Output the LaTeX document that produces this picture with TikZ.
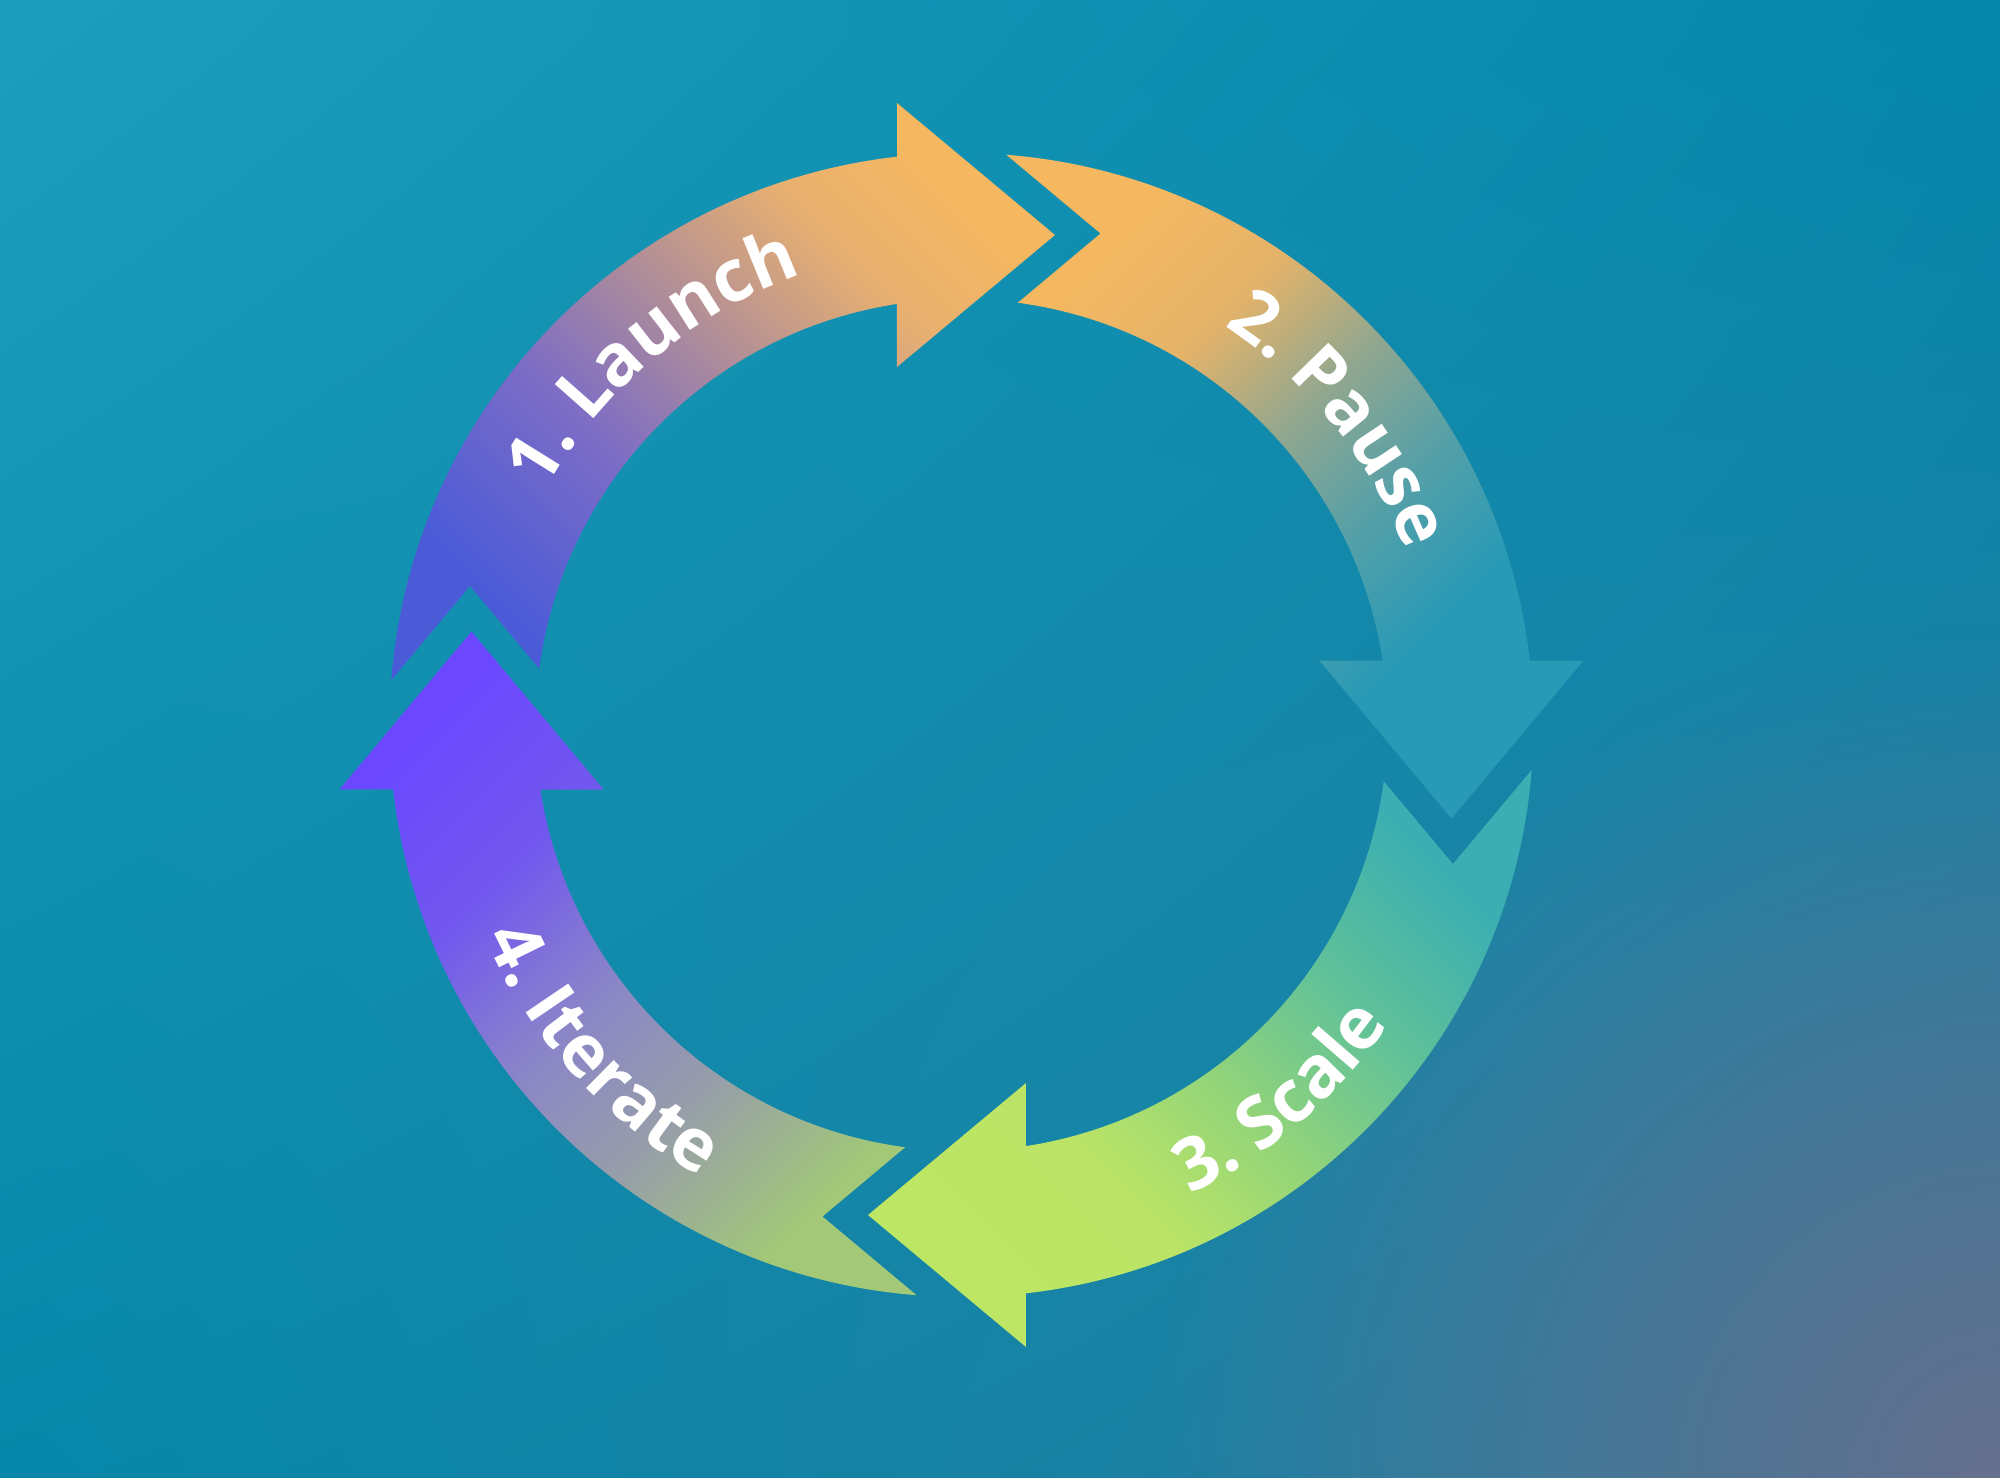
\documentclass[tikz,border=0pt]{standalone}
\usepackage{fontspec}
\newfontfamily\lblfamily{Open Sans}
\newcommand\lblfmt{\lblfamily\bfseries\fontsize{20.5}{24}\selectfont}
\usetikzlibrary{decorations.text,fadings,shadings}
\definecolor{bgA}{HTML}{1C9EBC}
\definecolor{bgB}{HTML}{0386AA}
\definecolor{bgC}{HTML}{0587A9}
\definecolor{bgD}{HTML}{2A7C9E}
\definecolor{bgP}{HTML}{66708E}
% arrow 1
\definecolor{la1}{HTML}{4B5BD8}
\definecolor{la2}{HTML}{7C6CC6}
\definecolor{la3}{HTML}{AE8C9A}
\definecolor{la4}{HTML}{E8B070}
\definecolor{la5}{HTML}{F5B860}
% arrow 2
\definecolor{pa1}{HTML}{F5B860}
\definecolor{pa2}{HTML}{E4B36A}
\definecolor{pa3}{HTML}{93A78E}
\definecolor{pa4}{HTML}{55A0A8}
\definecolor{pa5}{HTML}{289AB6}
% arrow 3
\definecolor{sa1}{HTML}{3AAEB2}
\definecolor{sa2}{HTML}{60C199}
\definecolor{sa3}{HTML}{95D578}
\definecolor{sa4}{HTML}{BBE466}
\definecolor{sa5}{HTML}{BEE665}
% arrow 4
\definecolor{ia1}{HTML}{A2C878}
\definecolor{ia2}{HTML}{979FA8}
\definecolor{ia3}{HTML}{8A85C8}
\definecolor{ia4}{HTML}{7258EE}
\definecolor{ia5}{HTML}{6B48FF}
\pgfdeclarehorizontalshading{shLaunch}{100bp}{color(0bp)=(la1); color(25bp)=(la1); color(40bp)=(la2); color(52bp)=(la3); color(65bp)=(la4); color(75bp)=(la5); color(100bp)=(la5)}
\pgfdeclarehorizontalshading{shPause}{100bp}{color(0bp)=(pa1); color(25bp)=(pa1); color(36bp)=(pa2); color(46bp)=(pa3); color(56bp)=(pa4); color(66bp)=(pa5); color(100bp)=(pa5)}
\pgfdeclarehorizontalshading{shScale}{100bp}{color(0bp)=(sa1); color(25bp)=(sa1); color(38bp)=(sa2); color(51bp)=(sa3); color(62bp)=(sa4); color(75bp)=(sa5); color(100bp)=(sa5)}
\pgfdeclarehorizontalshading{shIterate}{100bp}{color(0bp)=(ia1); color(25bp)=(ia1); color(38bp)=(ia2); color(50bp)=(ia3); color(62bp)=(ia4); color(75bp)=(ia5); color(100bp)=(ia5)}
\tikzfading[name=cornerfade, inner color=transparent!0, outer color=transparent!100]
\tikzset{
  steplabel/.style={decorate, decoration={text along path, text align=center, text color=white, text={#1}}}
}
\begin{document}
\begin{tikzpicture}
\lblfmt
\useasboundingbox (-9.615,-7.52) rectangle (10.385,7.25);
\begin{scope}
\clip (-9.615,-7.52) rectangle (10.385,7.25);
\shade[upper left=bgA, upper right=bgB, lower left=bgC, lower right=bgD] (-9.615,-7.52) rectangle (10.385,7.25);
\fill[bgP, path fading=cornerfade] (10.385,-7.52) circle (8.5);
\end{scope}
% 1. Launch
\shade[shading=shLaunch, shading angle=45]
  (175.5:5.72) arc[start angle=175.5, end angle=96.47, radius=5.72]
  -- (-0.645,6.22) -- (0.935,4.90) -- (-0.645,3.58)
  -- (98.71:4.26) arc[start angle=98.71, end angle=172.4, radius=4.26]
  -- (-4.915,1.39) -- cycle;
% 2. Pause
\shade[shading=shPause, shading angle=-45]
  (85.5:5.72) arc[start angle=85.5, end angle=6.47, radius=5.72]
  -- (6.22,0.645) -- (4.90,-0.935) -- (3.58,0.645)
  -- (8.71:4.26) arc[start angle=8.71, end angle=82.4, radius=4.26]
  -- (1.39,4.915) -- cycle;
% 3. Scale
\shade[shading=shScale, shading angle=225]
  (-4.5:5.72) arc[start angle=-4.5, end angle=-83.53, radius=5.72]
  -- (0.645,-6.22) -- (-0.935,-4.90) -- (0.645,-3.58)
  -- (-81.29:4.26) arc[start angle=-81.29, end angle=-7.6, radius=4.26]
  -- (4.915,-1.39) -- cycle;
% 4. Iterate
\shade[shading=shIterate, shading angle=135]
  (265.5:5.72) arc[start angle=265.5, end angle=186.47, radius=5.72]
  -- (-6.22,-0.645) -- (-4.90,0.935) -- (-3.58,-0.645)
  -- (188.71:4.26) arc[start angle=188.71, end angle=262.4, radius=4.26]
  -- (-1.39,-4.915) -- cycle;
% labels
\path[steplabel={1. Launch}] (160:4.78) arc[start angle=160, end angle=100, radius=4.78];
\path[steplabel={2. Pause}] (69:4.78) arc[start angle=69, end angle=9, radius=4.78];
\path[steplabel={3. Scale}] (-79.5:5.22) arc[start angle=-79.5, end angle=-19.5, radius=5.22];
\path[steplabel={4. Iterate}] (192:5.22) arc[start angle=192, end angle=252, radius=5.22];
\end{tikzpicture}
\end{document}
